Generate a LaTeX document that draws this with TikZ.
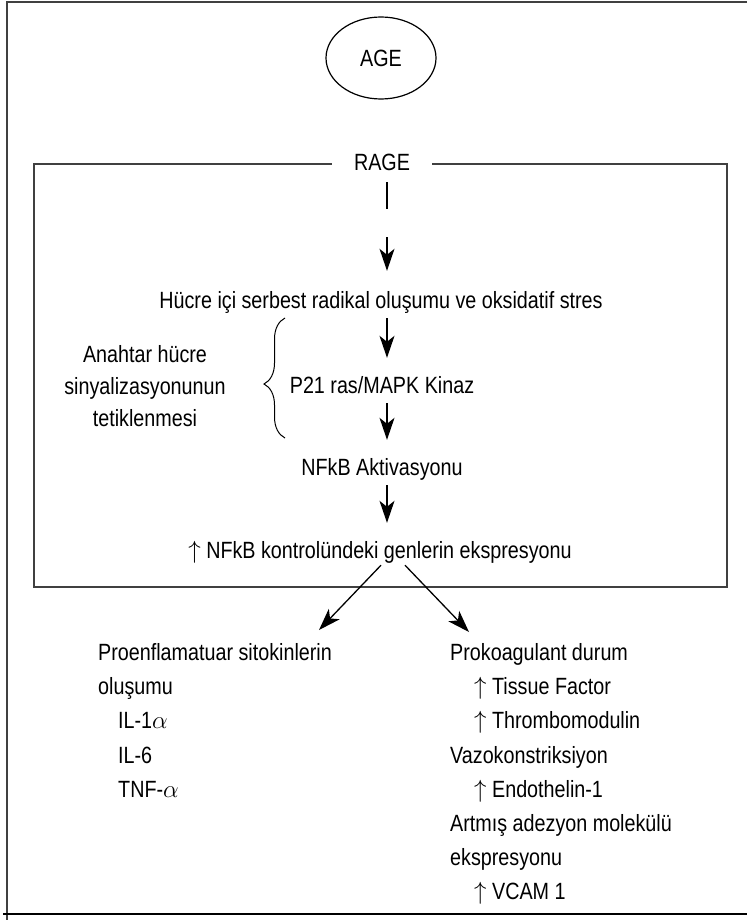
\documentclass[tikz,border=0pt]{standalone}
\usepackage{fontspec}
\setmainfont{Liberation Sans}[FakeStretch=0.84]
\usetikzlibrary{arrows.meta,shapes.geometric,decorations.pathreplacing}
\newcommand{\upar}{$\uparrow$}
\begin{document}
\begin{tikzpicture}[x=1pt,y=-1pt,
  txt/.style={font=\fontsize{23.5}{32}\selectfont, inner sep=0pt},
  vtxt/.style={txt, anchor=base, text height=17pt, text depth=5pt},
  lbl/.style={txt, anchor=base west},
  arr/.style={-{Stealth[length=22pt,width=15pt,inset=6pt]}, line width=1.3pt},
  vshort/.style={shorten <=5pt, shorten >=18pt},
  framel/.style={line width=1.5pt, draw=black!75}]
\useasboundingbox (0,0) rectangle (747,920);
% outer frame
\draw[framel] (747,2) -- (7,2) -- (7,920);
\draw[line width=2pt] (3,914) -- (747,914);
% AGE
\node[ellipse, draw, line width=1.2pt, minimum width=110pt, minimum height=82pt, txt] (age) at (381,58) {AGE};
% inner box
\draw[framel] (34,164) rectangle (727,587);
\node[txt, anchor=base, fill=white, inner xsep=22pt, inner ysep=4pt] (rage) at (382,171) {RAGE};
\coordinate (ax) at (387,0);
% chain
\node[vtxt] (hucre) at (381,308) {Hücre içi serbest radikal oluşumu ve oksidatif stres};
\node[vtxt] (p21) at (382,393) {P21 ras/MAPK Kinaz};
\node[vtxt] (nfkb) at (382,475) {NFkB Aktivasyonu};
\node[vtxt] (genes) at (380,558) {\upar\ NFkB kontrolündeki genlerin ekspresyonu};
\node[txt, align=center, anchor=base] (anahtar) at (145,426) {Anahtar hücre\\sinyalizasyonunun\\tetiklenmesi};
% connectors
\draw[line width=1.2pt] ([yshift=-7pt]rage.south -| ax) -- ([yshift=-34pt]rage.south -| ax);
\draw[arr, shorten >=20pt] ([yshift=-62pt]rage.south -| ax) -- (hucre.north -| ax);
\draw[arr, vshort] (hucre.south -| ax) -- (p21.north -| ax);
\draw[arr, vshort] (p21.south -| ax) -- (nfkb.north -| ax);
\draw[arr, vshort] (nfkb.south -| ax) -- (genes.north -| ax);
% brace
\coordinate (bb) at (285,438);
\coordinate (bt) at (285,318);
\draw[decorate, decoration={brace, amplitude=21pt, aspect=0.45}, line width=1pt] (bb) -- (bt);
% lower columns
\node[lbl] (proenf) at (98,660) {Proenflamatuar sitokinlerin};
\node[lbl] (olus) at (98,694) {oluşumu};
\node[lbl] (il1) at (118,728) {IL-1$\alpha$};
\node[lbl] (il6) at (118,763) {IL-6};
\node[lbl] (tnf) at (118,797) {TNF-$\alpha$};
\node[lbl] (prok) at (450,660) {Prokoagulant durum};
\node[lbl] (tf) at (474,694) {\upar\ Tissue Factor};
\node[lbl] (tm) at (474,728) {\upar\ Thrombomodulin};
\node[lbl] (vazo) at (450,763) {Vazokonstriksiyon};
\node[lbl] (endo) at (474,797) {\upar\ Endothelin-1};
\node[lbl] (artmis) at (450,831) {Artmış adezyon molekülü};
\node[lbl] (eksp) at (450,865) {ekspresyonu};
\node[lbl] (vcam) at (474,899) {\upar\ VCAM 1};
% diverging arrows
\coordinate (ltip) at (319,630);
\coordinate (rtip) at (469,632);
\draw[arr] ([xshift=-6pt,yshift=-2pt]genes.south -| ax) -- (ltip);
\draw[arr] ([xshift=18pt,yshift=-2pt]genes.south -| ax) -- (rtip);
\end{tikzpicture}
\end{document}
